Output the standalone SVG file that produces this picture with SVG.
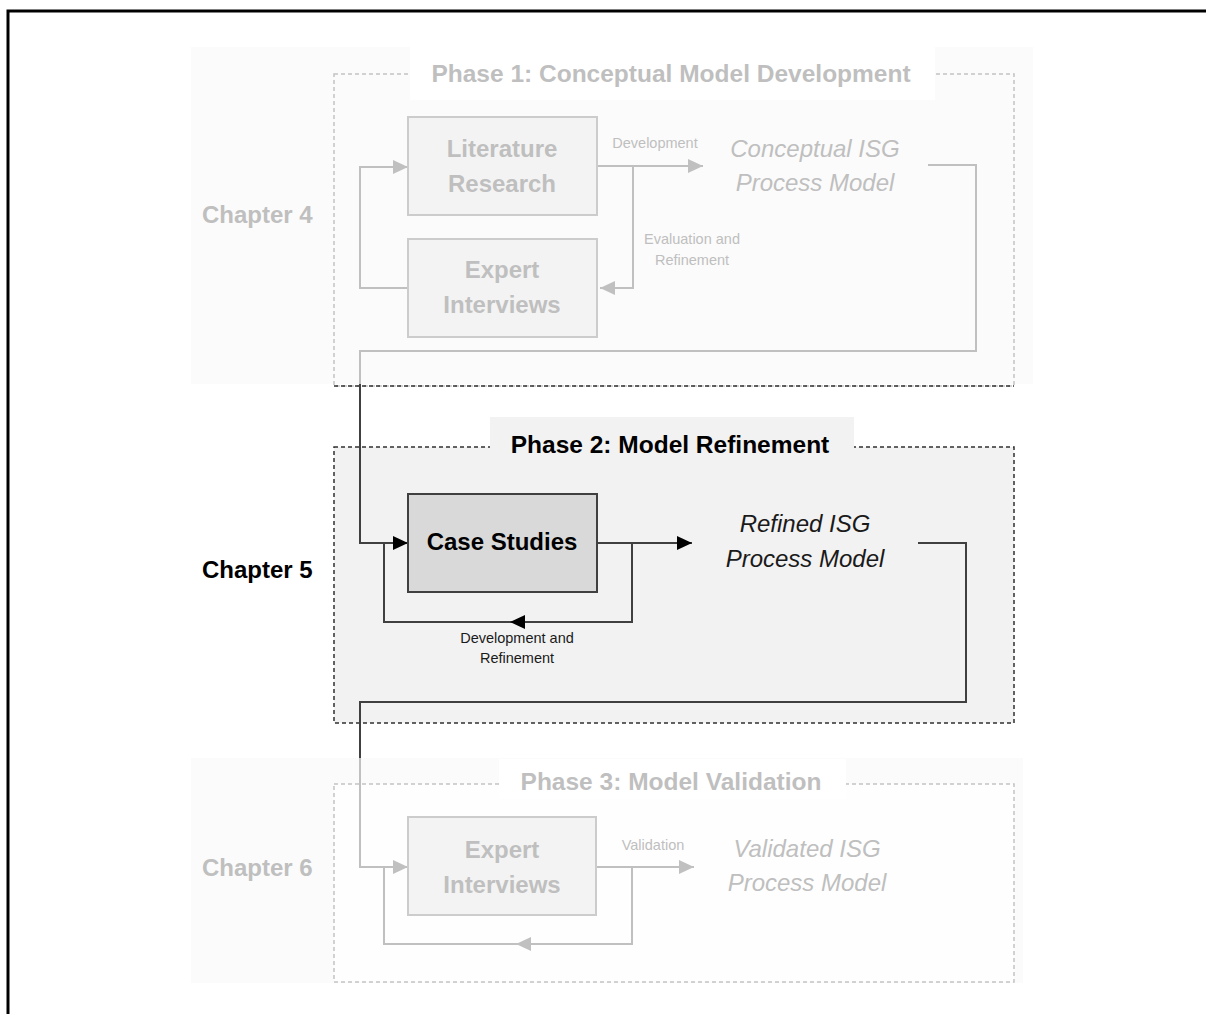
<svg xmlns="http://www.w3.org/2000/svg" width="1206" height="1014" viewBox="0 0 1206 1014">
<style>
  text { font-family: "Liberation Sans", Arial, sans-serif; }
  .chap { font-size: 24px; font-weight: bold; }
  .title { font-size: 24.5px; font-weight: bold; text-anchor: middle; }
  .node { font-size: 24px; font-weight: bold; text-anchor: middle; }
  .out { font-size: 24px; font-style: italic; text-anchor: middle; }
  .lbl { font-size: 14.5px; text-anchor: middle; }
  .faded { fill: #bfbfbf; }
  .dark { fill: #000000; }
  .cg { fill: none; stroke: #c0c0c0; stroke-width: 2; }
  .cd { fill: none; stroke: #404040; stroke-width: 2; }
  .dashg { fill: none; stroke: #c4c4c4; stroke-width: 1.5; stroke-dasharray: 4 3; }
  .dashd { fill: none; stroke: #303030; stroke-width: 1.5; stroke-dasharray: 4 3; }
  .boxg { fill: #f3f3f3; stroke: #cccccc; stroke-width: 2; }
  .boxd { fill: #d9d9d9; stroke: #404040; stroke-width: 2; }
</style>
<defs>
  <marker id="ag" markerUnits="userSpaceOnUse" markerWidth="15" markerHeight="14" refX="15" refY="7" orient="auto">
    <path d="M0,0 L15,7 L0,14 z" fill="#c0c0c0"/>
  </marker>
  <marker id="ad" markerUnits="userSpaceOnUse" markerWidth="15" markerHeight="14" refX="15" refY="7" orient="auto">
    <path d="M0,0 L15,7 L0,14 z" fill="#000000"/>
  </marker>
</defs>

<rect width="1206" height="1014" fill="#ffffff"/>
<path d="M8 1014 V11 H1206" fill="none" stroke="#000000" stroke-width="3"/>

<!-- Phase backgrounds -->
<g id="phase1">
  <rect x="191" y="47" width="842" height="337" fill="#fbfbfb"/>
  <rect x="334" y="74" width="680" height="312" fill="#fcfcfc" class="dashg"/>
  <line x1="334" y1="386" x2="1014" y2="386" class="dashd"/>
  <rect x="410" y="47" width="525" height="53" fill="#ffffff"/>
  <text class="title faded" x="671" y="82">Phase 1: Conceptual Model Development</text>
</g>
<g id="phase2">
  <rect x="334" y="447" width="680" height="276" fill="#f2f2f2" class="dashd" style="fill:#f2f2f2"/>
  <rect x="490" y="417" width="364" height="35" fill="#f2f2f2"/>
  <text class="title dark" x="670" y="453">Phase 2: Model Refinement</text>
</g>
<g id="phase3">
  <rect x="191" y="758" width="832" height="225" fill="#fbfbfb"/>
  <rect x="334" y="784" width="680" height="198" class="dashg" style="fill:#fefefe"/>
  <rect x="499" y="759" width="347" height="40" fill="#ffffff"/>
  <text class="title faded" x="671" y="790">Phase 3: Model Validation</text>
</g>

<!-- Chapter labels -->
<g id="chapters">
  <text class="chap faded" x="202" y="223">Chapter 4</text>
  <text class="chap dark" x="202" y="578">Chapter 5</text>
  <text class="chap faded" x="202" y="876">Chapter 6</text>
</g>

<!-- Connectors -->
<g id="connectors">
  <path class="cg" d="M408 288 H360 V167 H408" marker-end="url(#ag)"/>
  <path class="cg" d="M597 166 H703" marker-end="url(#ag)"/>
  <path class="cg" d="M633 166 V288 H600" marker-end="url(#ag)"/>
  <path class="cg" d="M928 165 H976 V351 H360 V384"/>
  <path class="cd" d="M360 384 V543 H408" marker-end="url(#ad)"/>
  <path class="cd" d="M384 543 V622 H632 V543"/>
  <path class="cd" d="M632 622 H510" marker-end="url(#ad)"/>
  <path class="cd" d="M597 543 H692" marker-end="url(#ad)"/>
  <path class="cd" d="M918 543 H966 V702 H360 V758"/>
  <path class="cg" d="M360 758 V867 H408" marker-end="url(#ag)"/>
  <path class="cg" d="M384 867 V944 H632 V867"/>
  <path class="cg" d="M632 944 H516" marker-end="url(#ag)"/>
  <path class="cg" d="M596 867 H694" marker-end="url(#ag)"/>
  <text class="lbl faded" x="655" y="148">Development</text>
  <text class="lbl faded" x="692" y="244">Evaluation and</text>
  <text class="lbl faded" x="692" y="265">Refinement</text>
  <text class="lbl" x="517" y="643" fill="#1a1a1a">Development and</text>
  <text class="lbl" x="517" y="663" fill="#1a1a1a">Refinement</text>
  <text class="lbl faded" x="653" y="850">Validation</text>
</g>

<!-- Nodes -->
<g id="literature-research">
  <rect class="boxg" x="408" y="117" width="189" height="98"/>
  <text class="node faded" x="502" y="157">Literature</text>
  <text class="node faded" x="502" y="192">Research</text>
</g>
<g id="expert-interviews-1">
  <rect class="boxg" x="408" y="239" width="189" height="98"/>
  <text class="node faded" x="502" y="278">Expert</text>
  <text class="node faded" x="502" y="313">Interviews</text>
</g>
<g id="conceptual-model">
  <text class="out faded" x="815" y="157">Conceptual ISG</text>
  <text class="out faded" x="815" y="191">Process Model</text>
</g>
<g id="case-studies">
  <rect class="boxd" x="408" y="494" width="189" height="98"/>
  <text class="node dark" x="502" y="550">Case Studies</text>
</g>
<g id="refined-model">
  <text class="out" x="805" y="532" fill="#1a1a1a">Refined ISG</text>
  <text class="out" x="805" y="567" fill="#1a1a1a">Process Model</text>
</g>
<g id="expert-interviews-3">
  <rect class="boxg" x="408" y="817" width="188" height="98"/>
  <text class="node faded" x="502" y="858">Expert</text>
  <text class="node faded" x="502" y="893">Interviews</text>
</g>
<g id="validated-model">
  <text class="out faded" x="807" y="857">Validated ISG</text>
  <text class="out faded" x="807" y="891">Process Model</text>
</g>
</svg>
